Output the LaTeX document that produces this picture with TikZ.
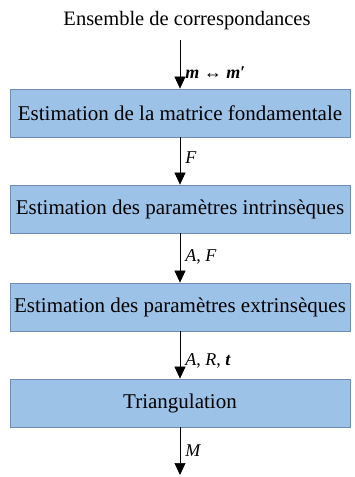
\documentclass[tikz,border=0pt]{standalone}
\usepackage{fontspec}
\setmainfont{Liberation Serif}
\usetikzlibrary{arrows.meta}
\definecolor{stagefill}{HTML}{9CC2E8}
\definecolor{stageline}{HTML}{6F8DB3}
\begin{document}
\begin{tikzpicture}[x=1pt, y=1pt,
			stage/.style={
				draw=stageline, fill=stagefill, line width=0.8pt,
				minimum width=340pt, minimum height=48pt,
				inner sep=0pt, font=\fontsize{21}{25}\selectfont
			},
			flow/.style={-{Triangle[length=12pt,width=11pt]}, line width=0.6pt},
			label node/.style={font=\fontsize{18}{21}\selectfont, inner sep=5pt}
			]
			\useasboundingbox (0,0) rectangle (355,-477);
			
			\node[font=\fontsize{20.5}{24}\selectfont] (title) at (187,-21) {Ensemble de correspondances};
			\coordinate (start) at (180,-40);
			
			\node[stage] (fmat) at (180,-113) {Estimation de la matrice fondamentale};
			\node[stage] (intr) at (180,-209) {Estimation des paramètres intrinsèques};
			\node[stage] (extr) at (180,-307) {Estimation des paramètres extrinsèques};
			\node[stage] (tri) at (180,-403) {Triangulation};
			
			\coordinate (stop) at (180,-475);
			
			\draw[flow] (start) to node[pos=0.68, right, label node] {\textbf{\textit{m}} ↔ \textbf{\textit{m}′}} (fmat.north);
			\draw[flow] (fmat.south) to node[pos=0.42, right, label node] {\textit{F}} (intr.north);
			\draw[flow] (intr.south) to node[pos=0.48, right, label node] {\textit{A}, \textit{F}} (extr.north);
			\draw[flow] (extr.south) to node[pos=0.62, right, label node] {\textit{A}, \textit{R}, \textbf{\textit{t}}} (tri.north);
			\draw[flow] (tri.south) to node[pos=0.48, right, label node] {\textit{M}} (stop);
			
		\end{tikzpicture}
\end{document}
